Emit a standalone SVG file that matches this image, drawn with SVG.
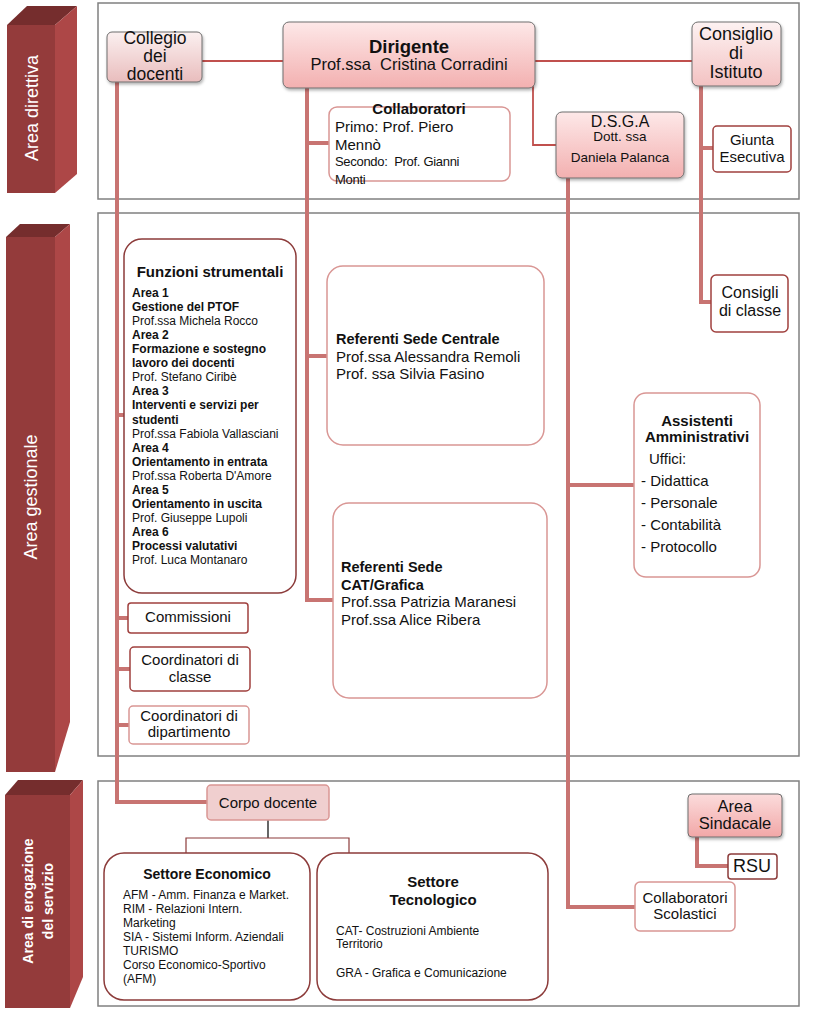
<svg xmlns="http://www.w3.org/2000/svg" width="813" height="1025" viewBox="0 0 813 1025">
<defs>
<linearGradient id="gDir" x1="0" y1="0" x2="0" y2="1"><stop offset="0" stop-color="#fde8e8"/><stop offset="1" stop-color="#f3b0b0"/></linearGradient>
<linearGradient id="gLight" x1="0" y1="0" x2="0" y2="1"><stop offset="0" stop-color="#fbf0f0"/><stop offset="1" stop-color="#e9bdbd"/></linearGradient>
<linearGradient id="gCons" x1="0" y1="0" x2="0" y2="1"><stop offset="0" stop-color="#fdf2f2"/><stop offset="1" stop-color="#f3c2c2"/></linearGradient>
<linearGradient id="gSind" x1="0" y1="0" x2="0" y2="1"><stop offset="0" stop-color="#fbdcdc"/><stop offset="1" stop-color="#f2a7a7"/></linearGradient>
<filter id="sh" x="-10%" y="-10%" width="130%" height="140%"><feDropShadow dx="1" dy="2" stdDeviation="1.5" flood-color="#000" flood-opacity="0.3"/></filter>
</defs>
<style>
text{font-family:"Liberation Sans",Arial,sans-serif;fill:#111;}
.panel{fill:#fff;stroke:#808080;stroke-width:1.5;}
.front{fill:#943b3b;}
.side{fill:#ad4747;}
.top{fill:#752d2d;}
.bt{fill:#fff;font-size:18px;}
.bt2{fill:#fff;font-size:14px;font-weight:bold;}
.grad{stroke:#6e6e6e;stroke-width:1;}
.lp{fill:#fff;stroke:#d99694;stroke-width:1.5;}
.dr{fill:#fff;stroke:#a0403e;stroke-width:1.5;}
.dk{fill:#fff;stroke:#8c3b3a;stroke-width:1.5;}
.thick{fill:none;stroke:#c87472;stroke-width:4;}
.thin{fill:none;stroke:#c0504d;stroke-width:1.8;}
.tree{fill:none;stroke:#8c3b3a;stroke-width:1.2;}
.c{text-anchor:middle;}
.b{font-weight:bold;}
</style>

<g id="panels">
<rect class="panel" x="98" y="3" width="701" height="196"/>
<rect class="panel" x="98" y="213" width="701" height="543"/>
<rect class="panel" x="98" y="781" width="701" height="225"/>
</g>

<g id="bar-direttiva">
<polygon class="top" points="7,25 27,6 77,6 55,25"/>
<rect class="front" x="7" y="25" width="48" height="168"/>
<polygon class="side" points="55,25 77,6 77,174 55,193"/>
<text class="bt c" transform="translate(38,108) rotate(-90)">Area direttiva</text>
</g>
<g id="bar-gestionale">
<polygon class="top" points="6,237 20,224 70,224 55,237"/>
<rect class="front" x="6" y="237" width="49" height="535"/>
<polygon class="side" points="55,237 70,224 70,722 55,772"/>
<text class="bt c" transform="translate(37,497) rotate(-90)">Area gestionale</text>
</g>
<g id="bar-erogazione">
<polygon class="top" points="5,795 18,780 83,780 70,795"/>
<rect class="front" x="5" y="795" width="65" height="213"/>
<polygon class="side" points="70,795 83,780 83,977 70,1008"/>
<text class="bt2 c" transform="translate(33,901) rotate(-90)">Area di erogazione</text>
<text class="bt2 c" transform="translate(53,901) rotate(-90)">del servizio</text>
</g>

<g id="connectors">
<line class="thin" x1="202" y1="61" x2="283" y2="61"/>
<line class="thin" x1="535" y1="61" x2="692" y2="61"/>
<polyline class="thin" points="533,82 533,145 556,145"/>
<polyline class="thick" points="307,88 307,600 333,600"/>
<line class="thick" x1="307" y1="143" x2="329" y2="143"/>
<line class="thick" x1="307" y1="356" x2="328" y2="356"/>
<polyline class="thick" points="117,82 117,802 207,802"/>
<line class="thick" x1="117" y1="415" x2="124" y2="415"/>
<line class="thick" x1="117" y1="618" x2="128" y2="618"/>
<line class="thick" x1="117" y1="669" x2="130" y2="669"/>
<line class="thick" x1="117" y1="725" x2="129" y2="725"/>
<polyline class="thick" points="701,86 701,302 711,302"/>
<line class="thick" x1="701" y1="148" x2="713" y2="148"/>
<polyline class="thick" points="568,178 568,907 635,907"/>
<line class="thick" x1="568" y1="485" x2="634" y2="485"/>
<polyline class="thick" points="697,837 697,866 728,866"/>
<line x1="268" y1="820" x2="268" y2="838" stroke="#000" stroke-width="1.2"/>
<polyline class="tree" points="186,853 186,838 349,838 349,853"/>
</g>

<g id="collegio">
<rect x="107" y="32" width="95" height="50" rx="5" fill="url(#gLight)" class="grad" filter="url(#sh)"/>
<text class="c" x="155" y="44" font-size="17.5">Collegio</text>
<text class="c" x="155" y="62" font-size="17.5">dei</text>
<text class="c" x="155" y="80" font-size="17.5">docenti</text>
</g>
<g id="dirigente">
<rect x="283" y="22" width="252" height="66" rx="6" fill="url(#gDir)" class="grad" filter="url(#sh)"/>
<text class="c b" x="409" y="53" font-size="18.5">Dirigente</text>
<text class="c" x="409" y="70" font-size="16.5" style="white-space:pre">Prof.ssa  Cristina Corradini</text>
</g>
<g id="consiglio-istituto">
<rect x="692" y="22" width="89" height="64" rx="6" fill="url(#gCons)" class="grad" filter="url(#sh)"/>
<text class="c" x="736" y="40" font-size="18">Consiglio</text>
<text class="c" x="736" y="59" font-size="18">di</text>
<text class="c" x="736" y="78" font-size="18">Istituto</text>
</g>
<g id="collaboratori">
<rect class="lp" x="329" y="107" width="181" height="74" rx="8"/>
<text class="c b" x="419" y="114" font-size="15">Collaboratori</text>
<text x="335" y="132" font-size="15">Primo: Prof. Piero</text>
<text x="335" y="150" font-size="15">Mennò</text>
<text x="335" y="166" font-size="13" style="white-space:pre" letter-spacing="-0.3">Secondo:  Prof. Gianni</text>
<text x="335" y="184" font-size="13" letter-spacing="-0.3">Monti</text>
</g>
<g id="dsga">
<rect x="556" y="112" width="128" height="66" rx="6" fill="url(#gDir)" class="grad" filter="url(#sh)"/>
<text class="c" x="620" y="127" font-size="16">D.S.G.A</text>
<text class="c" x="620" y="141" font-size="13.5">Dott. ssa</text>
<text class="c" x="620" y="162" font-size="13.5">Daniela Palanca</text>
</g>
<g id="giunta">
<rect class="dr" x="713" y="126" width="78" height="46" rx="4" stroke="#d08080"/>
<text class="c" x="752" y="145" font-size="15">Giunta</text>
<text class="c" x="752" y="162" font-size="15">Esecutiva</text>
</g>
<g id="consigli-classe">
<rect class="dr" x="711" y="275" width="77" height="57" rx="5" stroke="#c66060"/>
<text class="c" x="750" y="298" font-size="16">Consigli</text>
<text class="c" x="750" y="316" font-size="16">di classe</text>
</g>
<g id="funzioni">
<rect class="dk" x="124" y="239" width="172" height="354" rx="18"/>
<text class="c b" x="210" y="277" font-size="15">Funzioni strumentali</text>
<g font-size="12">
<text class="b" x="132" y="297">Area 1</text>
<text class="b" x="132" y="311">Gestione del PTOF</text>
<text x="132" y="325.1">Prof.ssa Michela Rocco</text>
<text class="b" x="132" y="339.2">Area 2</text>
<text class="b" x="132" y="353.2">Formazione e sostegno</text>
<text class="b" x="132" y="367.3">lavoro dei docenti</text>
<text x="132" y="381.3">Prof. Stefano Ciribè</text>
<text class="b" x="132" y="395.4">Area 3</text>
<text class="b" x="132" y="409.4">Interventi e servizi per</text>
<text class="b" x="132" y="423.5">studenti</text>
<text x="132" y="437.5">Prof.ssa Fabiola Vallasciani</text>
<text class="b" x="132" y="451.6">Area 4</text>
<text class="b" x="132" y="465.6">Orientamento in entrata</text>
<text x="132" y="479.7">Prof.ssa Roberta D'Amore</text>
<text class="b" x="132" y="493.7">Area 5</text>
<text class="b" x="132" y="507.8">Orientamento in uscita</text>
<text x="132" y="521.8">Prof. Giuseppe Lupoli</text>
<text class="b" x="132" y="535.9">Area 6</text>
<text class="b" x="132" y="549.9">Processi valutativi</text>
<text x="132" y="564">Prof. Luca Montanaro</text>
</g>
</g>
<g id="referenti-centrale">
<rect class="lp" x="327" y="266" width="217" height="179" rx="16"/>
<text class="b" x="336" y="344" font-size="14.5">Referenti Sede Centrale</text>
<text x="336" y="362" font-size="15">Prof.ssa Alessandra Remoli</text>
<text x="336" y="379" font-size="15">Prof. ssa Silvia Fasino</text>
</g>
<g id="referenti-cat">
<rect class="lp" x="333" y="503" width="214" height="195" rx="16"/>
<text class="b" x="341" y="572" font-size="14.5">Referenti Sede</text>
<text class="b" x="341" y="590" font-size="14.5">CAT/Grafica</text>
<text x="341" y="607" font-size="15">Prof.ssa Patrizia Maranesi</text>
<text x="341" y="625" font-size="15">Prof.ssa Alice Ribera</text>
</g>
<g id="assistenti">
<rect class="lp" x="634" y="393" width="126" height="184" rx="12"/>
<text class="c b" x="697" y="426" font-size="15">Assistenti</text>
<text class="c b" x="697" y="442" font-size="15">Amministrativi</text>
<text x="649" y="464" font-size="15">Uffici:</text>
<text x="641" y="486" font-size="15">- Didattica</text>
<text x="641" y="508" font-size="15">- Personale</text>
<text x="641" y="530" font-size="15">- Contabilità</text>
<text x="641" y="552" font-size="15">- Protocollo</text>
</g>
<g id="commissioni">
<rect class="dr" x="128" y="603" width="120" height="30" rx="3"/>
<text class="c" x="188" y="622" font-size="15">Commissioni</text>
</g>
<g id="coord-classe">
<rect class="dr" x="130" y="647" width="120" height="44" rx="4"/>
<text class="c" x="190" y="665" font-size="15">Coordinatori di</text>
<text class="c" x="190" y="682" font-size="15">classe</text>
</g>
<g id="coord-dipartimento">
<rect class="lp" x="129" y="706" width="120" height="38" rx="4"/>
<text class="c" x="189" y="721" font-size="15">Coordinatori di</text>
<text class="c" x="189" y="737" font-size="15">dipartimento</text>
</g>
<g id="corpo-docente">
<rect x="207" y="785" width="122" height="35" rx="4" fill="#f0cfcf" stroke="#d99694" stroke-width="1.5"/>
<text class="c" x="268" y="808" font-size="15">Corpo docente</text>
</g>
<g id="settore-economico">
<rect class="dk" x="104" y="853" width="206" height="147" rx="20"/>
<text class="c b" x="207" y="879" font-size="14">Settore Economico</text>
<g font-size="12">
<text x="123" y="899">AFM - Amm. Finanza e Market.</text>
<text x="123" y="913">RIM - Relazioni Intern.</text>
<text x="123" y="927">Marketing</text>
<text x="123" y="941">SIA - Sistemi Inform. Aziendali</text>
<text x="123" y="955">TURISMO</text>
<text x="123" y="969">Corso Economico-Sportivo</text>
<text x="123" y="983">(AFM)</text>
</g>
</g>
<g id="settore-tecnologico">
<rect class="dk" x="317" y="853" width="231" height="147" rx="20"/>
<text class="c b" x="433" y="887" font-size="15">Settore</text>
<text class="c b" x="433" y="905" font-size="15">Tecnologico</text>
<g font-size="12">
<text x="336" y="935">CAT- Costruzioni Ambiente</text>
<text x="336" y="948">Territorio</text>
<text x="336" y="977">GRA - Grafica e Comunicazione</text>
</g>
</g>
<g id="area-sindacale">
<rect x="688" y="794" width="94" height="43" rx="4" fill="url(#gSind)" class="grad" filter="url(#sh)"/>
<text class="c" x="735" y="812" font-size="16.5">Area</text>
<text class="c" x="735" y="829" font-size="16.5">Sindacale</text>
</g>
<g id="rsu">
<rect class="dk" x="728" y="854" width="49" height="25" rx="3"/>
<text class="c" x="752" y="872" font-size="18">RSU</text>
</g>
<g id="collaboratori-scolastici">
<rect class="lp" x="635" y="882" width="100" height="49" rx="5"/>
<text class="c" x="685" y="903" font-size="15">Collaboratori</text>
<text class="c" x="685" y="919" font-size="15">Scolastici</text>
</g>
</svg>
